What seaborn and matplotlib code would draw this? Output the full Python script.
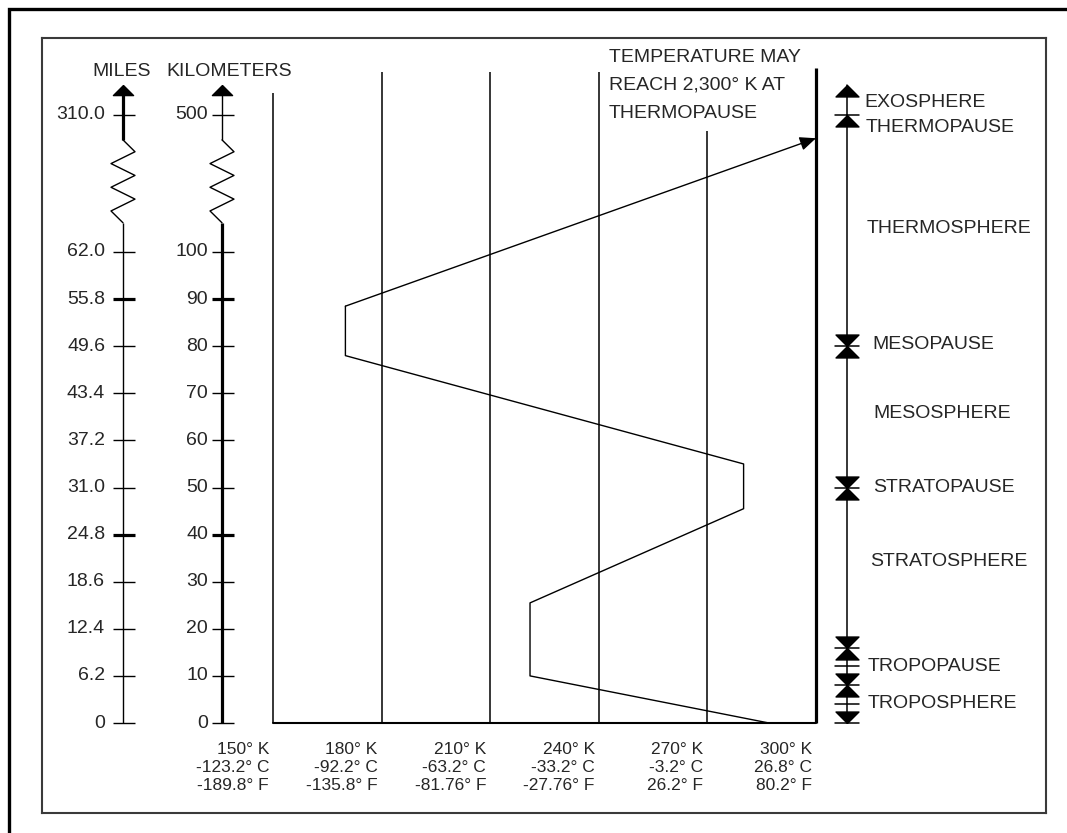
import numpy as np
import pandas as pd
import seaborn as sns
import matplotlib.pyplot as plt
from matplotlib.patches import Rectangle
from matplotlib.transforms import offset_copy

# profilo di temperatura: kelvin contro quota in km
temp_k = [287, 221, 221, 280, 280, 170, 170]
alt_km = [0, 10, 25.5, 45.5, 55, 78, 88.5]
arrow_end_k = 300
arrow_end_km = 432

# assi di temperatura
temp_ticks = [150, 180, 210, 240, 270, 300]
temp_k_labels = ['150° K', '180° K', '210° K', '240° K', '270° K', '300° K']
temp_c_labels = ['-123.2° C', '-92.2° C', '-63.2° C', '-33.2° C', '-3.2° C', '26.8° C']
temp_f_labels = ['-189.8° F', '-135.8° F', '-81.76° F', '-27.76° F', '26.2° F', '80.2° F']

# assi di quota
km_ticks = [0, 10, 20, 30, 40, 50, 60, 70, 80, 90, 100, 500]
km_labels = ['0', '10', '20', '30', '40', '50', '60', '70', '80', '90', '100', '500']
mile_labels = ['0', '6.2', '12.4', '18.6', '24.8', '31.0', '37.2', '43.4',
               '49.6', '55.8', '62.0', '310.0']
bold_ticks = [40, 90]

# strati dell'atmosfera
layer_bounds = [0, 8, 16, 50, 80, 500]
layer_names = ['EXOSPHERE', 'THERMOPAUSE', 'THERMOSPHERE', 'MESOPAUSE', 'MESOSPHERE',
               'STRATOPAUSE', 'STRATOSPHERE', 'TROPOPAUSE', 'TROPOSPHERE']
layer_label_km = [537, 462, 170, 80.3, 65.8, 49.9, 34.2, 12.1, 4.2]
note_lines = ['TEMPERATURE MAY', 'REACH 2,300° K AT', 'THERMOPAUSE']

# layout (pixel del riferimento)
W, H = 1067, 833
BOX_L, BOX_R, BOX_T, BOX_B = 42, 1046, 38, 813
grid_top_km = [564, 625, 625, 625, 453, 636]
label_x_px = [864, 866, 867, 872, 873, 873, 870, 868, 868]
C = 0.07275  # compressione sopra i 100 km


def fwd(y):
    y = np.asarray(y, dtype=float)
    return np.where(y <= 100, y, 100 + (y - 100) * C)


def inv(y):
    y = np.asarray(y, dtype=float)
    return np.where(y <= 100, y, 100 + (y - 100) / C)


def fx(px):
    return (px - BOX_L) / (BOX_R - BOX_L)


def fy(py):
    return (BOX_B - py) / (BOX_B - BOX_T)


sns.set_theme(style='white')
plt.rcParams['font.family'] = ['Liberation Sans', 'DejaVu Sans']
FS = 14

fig = plt.figure(figsize=(W / 100, H / 100), dpi=100)
fig.patches.append(Rectangle((9 / W, -0.1), 1.2, 1 - 9 / H + 0.1, transform=fig.transFigure,
                             fill=False, edgecolor='black', linewidth=2.4, clip_on=False))

ax = fig.add_axes([BOX_L / W, (H - BOX_B) / H, (BOX_R - BOX_L) / W, (BOX_B - BOX_T) / H])
ax.set_yscale('function', functions=(fwd, inv))
for s in ax.spines.values():
    s.set_color('#3a3a3a')
    s.set_linewidth(1.5)
ax.set_xticks([])
ax.set_yticks([])
ax.minorticks_off()

px_per_k = (816 - 273) / 150
xlim = (150 - (273 - BOX_L) / px_per_k, 300 + (BOX_R - 816) / px_per_k)
px_per_km = 4.71
ylim = (-(BOX_B - 723) / px_per_km, float(inv((723 - BOX_T) / px_per_km)))

# linee verticali di temperatura
for t, top in zip(temp_ticks, grid_top_km):
    ax.plot([t, t], [0, top], color='black', lw=2.3 if t == 300 else 1.1, solid_capstyle='butt')
ax.plot([150, 300], [0, 0], color='black', lw=1.5)

# profilo
df = pd.DataFrame({'K': temp_k, 'km': alt_km})
sns.lineplot(data=df, x='K', y='km', sort=False, estimator=None, color='black', lw=1, ax=ax)
ax.annotate('', xy=(arrow_end_k, arrow_end_km), xytext=(temp_k[-1], alt_km[-1]),
            arrowprops=dict(arrowstyle='-|>,head_length=0.7,head_width=0.3', mutation_scale=14,
                            color='black', lw=1, shrinkA=0, shrinkB=0))

ytr = ax.get_yaxis_transform()
up_tri = [(0, 0), (-1, -1), (1, -1), (0, 0)]
dn_tri = [(0, 0), (-1, 1), (1, 1), (0, 0)]
brk_lo, brk_hi = float(inv(106.2)), float(inv(123.8))
ax_top, ax_tip = float(inv(133.3)), float(inv(135.5))


def zigzag(xc):
    offs = [0, 12, -12, 12, -12, 12, -12, 0]
    ys = inv(np.linspace(123.8, 106.2, len(offs)))
    ax.plot([xc + fx(BOX_L + o) for o in offs], ys, color='black', lw=1, transform=ytr)


# assi miglia / km
for xpx, labels, lpx, thick_low in [(123, mile_labels, 105, False), (222, km_labels, 208, True)]:
    xc = fx(xpx)
    ax.plot([xc, xc], [0, brk_lo], color='black', lw=2.3 if thick_low else 1, transform=ytr,
            solid_capstyle='butt')
    ax.plot([xc, xc], [brk_hi, ax_top], color='black', lw=1 if thick_low else 2.3, transform=ytr,
            solid_capstyle='butt')
    zigzag(xc)
    ax.plot([xc], [ax_tip], marker=up_tri, ms=14.5, color='black', transform=ytr)
    for k, lab in zip(km_ticks, labels):
        bold = k in bold_ticks
        ax.plot([xc - 10 / 1004, xc + 12 / 1004], [k, k], color='black',
                lw=2.3 if bold else 1, transform=ytr, solid_capstyle='butt')
        ax.text(fx(lpx), k, lab, transform=ytr, ha='right', va='center', fontsize=FS)

ax.text(fx(122), fy(72), 'MILES', transform=ax.transAxes, ha='center', va='center', fontsize=FS)
ax.text(fx(229), fy(72), 'KILOMETERS', transform=ax.transAxes, ha='center', va='center', fontsize=FS)

for i, line in enumerate(note_lines):
    ax.text(fx(609), fy(57 + 28 * i), line, transform=ax.transAxes, ha='left', va='center',
            fontsize=FS)

# etichette di temperatura in basso
xtr = offset_copy(ax.get_xaxis_transform(), fig=fig, x=-4, units='dots')
for t, lk, lc, lf in zip(temp_ticks, temp_k_labels, temp_c_labels, temp_f_labels):
    for j, lab in enumerate([lk, lc, lf]):
        ax.text(t, fy(749 + 18.5 * j), lab, transform=xtr, ha='right', va='center', fontsize=12.5)

# frecce degli strati
lx = fx(847)
bw = 12 / 1004
for b in layer_bounds:
    ax.plot([lx - bw, lx + bw], [b, b], color='black', lw=1.1, transform=ytr)
for lo, hi in zip(layer_bounds[:-1], layer_bounds[1:]):
    ax.plot([lx, lx], [lo, hi], color='black', lw=1.1, transform=ytr)
    ax.plot([lx], [hi], marker=up_tri, ms=16.5, color='black', transform=ytr, ls='none')
    ax.plot([lx], [lo], marker=dn_tri, ms=16.5, color='black', transform=ytr, ls='none')
for lo, hi in [(0, 8), (8, 16)]:
    mid = float(inv((fwd(lo) + fwd(hi)) / 2))
    ax.plot([lx - bw, lx + bw], [mid, mid], color='black', lw=1.1, transform=ytr)
ax.plot([lx, lx], [500, ax_tip], color='black', lw=1.1, transform=ytr)
ax.plot([lx], [ax_tip], marker=up_tri, ms=16.5, color='black', transform=ytr, ls='none')

for name, k, xpx in zip(layer_names, layer_label_km, label_x_px):
    ax.text(fx(xpx), k, name, transform=ytr, ha='left', va='center', fontsize=FS)

ax.set_xlim(*xlim)
ax.set_ylim(*ylim)
ax.set_xlabel('')
ax.set_ylabel('')

fig.savefig('out.png', dpi=100)
